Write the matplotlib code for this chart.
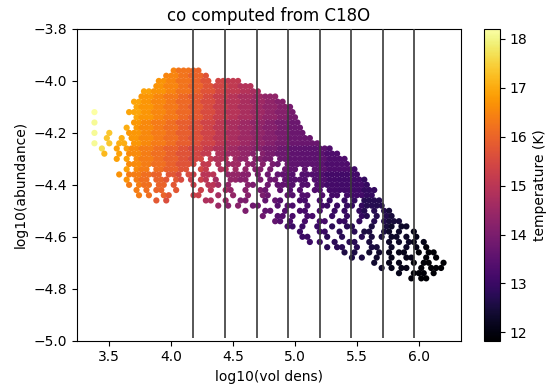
import numpy as np
import matplotlib
matplotlib.use("Agg")
import matplotlib.pyplot as plt

# Sampling lattice of the (log10 density, log10 abundance) plane used for the point map.
# Odd rows are staggered by half a column.
dens_start, dens_step = 3.38, 0.04
abund_start, abund_step = -3.96, 0.02

# Occupancy map of the cloud: one row per abundance step, '#' marks a cell with data.
cloud_rows = [
    ".......... ......#### ##",
    ".......... ....###### ###",
    ".......... ...####### ####.#####",
    ".......... ..######## ########## ##",
    ".......... ########## ########## ####",
    ".........# ########## ########## #######",
    "........## ########## ########## #########",
    "........## ########## ########## ##########",
    "#......### ########## ########## ########## #",
    "........## ########## ########## ########## #",
    "#.......## ########## ########## ########## ##",
    "......#.## ########## ########## ########## ##",
    "#..#...### ########## ########## ########## ###",
    "..#..#.### ########## ########## ########## ####",
    "#..#.##.## ########## ########## ########## ######",
    ".#..#.#### ########## ########## ########## ########",
    "..#..#.### ########## ####.##### ###.###### ##########",
    "....#.#.## ########## ##.####.## #.####.### ########## #",
    ".......### ########## #.##.#.### .##.#.##.# ########## ##",
    "......#.## #.#######. .##..##.#. #.##.#..## #.#.###### ###",
    ".....#.### ####.###.# #.###..### ##.#.#.### #.######## ####",
    "......#.## #.###.##.# .##.#..### #..#.##.## ###.###### #####",
    ".......#.# ##.##.#... #..###.#.. .##..#.### #.##.##### ######",
    "........#. #.##..#... .#.#..##.. #..##..#.# .#..##.### #######",
    ".........# .#..##.... ##...#..#. .#..##...# #.##..#.## .######",
    ".......... ..#.#..... ..##..#..# #...#.##.. .##..#.#.. #.#.####",
    ".......... .......... .....#.#.# ..##...#.# #..#..##.# .##.#####",
    ".......... .......... .......... #...##..#. .##..#..#. #..##.#.##",
    ".......... .......... .......... ....#..##. #..##...#. .#..##.#.# #",
    ".......... .......... .......... ......##.# ..#..##..# #..#..#.## ##",
    ".......... .......... .......... .........# #.#..#..#. .##...#..# #.##",
    ".......... .......... .......... .......... .#...##..# ..#.##..## .#..#",
    ".......... .......... .......... .......... ..##...#.. #...#.#.#. ##.#.#",
    ".......... .......... .......... .......... ...#.#..#. .##..#...# .#.##.#",
    ".......... .......... .......... .......... .......#.# #..#..##.. #..#.#.#.",
    ".......... .......... .......... .......... .......... #.#..#.#.# .##..#.##",
    ".......... .......... .......... .......... .......... ..#.#..#.. #..##..#.#",
    ".......... .......... .......... .......... .......... ......#..# .#..#.##.. #",
    ".......... .......... .......... .......... .......... ........#. #.##..#.## #",
    ".......... .......... .......... .......... .......... .......... .#..###.#.",
    ".......... .......... .......... .......... .......... .......... ....#.##..",
]

# Gas temperature (K) over the same plane, tabulated on 0.1 dex bins.
temp_dens = [3.4, 3.5, 3.6, 3.7, 3.8, 3.9, 4.0, 4.1, 4.2, 4.3, 4.4, 4.5, 4.6, 4.7, 4.8,
             4.9, 5.0, 5.1, 5.2, 5.3, 5.4, 5.5, 5.6, 5.7, 5.8, 5.9, 6.0, 6.1, 6.2]
temp_abund = [-4.0, -4.1, -4.2, -4.3, -4.4, -4.5, -4.6, -4.7, -4.8]
temp_table = [
    [18.2, 17.7, 17.4, 17.1, 16.9, 16.7, 16.5, 16.25, 16.0, 15.7, 15.4, 15.1, 14.9, 14.7, 14.5,
     14.3, 14.1, 13.9, 13.7, 13.5, 13.3, 13.1, 12.9, 12.7, 12.5, 12.3, 12.1, 11.95, 11.83],
    [18.2, 17.52, 17.22, 16.92, 16.72, 16.52, 16.32, 16.07, 15.82, 15.52, 15.22, 14.92, 14.72, 14.52, 14.32,
     14.12, 13.92, 13.9, 13.7, 13.5, 13.3, 13.1, 12.9, 12.7, 12.5, 12.3, 12.1, 11.95, 11.83],
    [18.1, 17.34, 17.04, 16.74, 16.54, 16.34, 16.14, 15.89, 15.64, 15.34, 15.04, 14.74, 14.54, 14.34, 14.14,
     13.94, 13.74, 13.72, 13.7, 13.5, 13.3, 13.1, 12.9, 12.7, 12.5, 12.3, 12.1, 11.95, 11.83],
    [17.66, 17.16, 16.86, 16.56, 16.36, 16.16, 15.96, 15.71, 15.46, 15.16, 14.86, 14.56, 14.36, 14.16, 13.96,
     13.76, 13.56, 13.54, 13.52, 13.32, 13.3, 13.1, 12.9, 12.7, 12.5, 12.3, 12.1, 11.95, 11.83],
    [17.48, 16.98, 16.68, 16.38, 16.18, 15.98, 15.78, 15.53, 15.28, 14.98, 14.68, 14.38, 14.18, 13.98, 13.78,
     13.58, 13.38, 13.36, 13.34, 13.14, 13.12, 13.1, 12.9, 12.7, 12.5, 12.3, 12.1, 11.95, 11.83],
    [17.3, 16.8, 16.5, 16.2, 16.0, 15.8, 15.6, 15.35, 15.1, 14.8, 14.5, 14.2, 14.0, 13.8, 13.6,
     13.4, 13.2, 13.18, 13.16, 12.96, 12.94, 12.92, 12.72, 12.7, 12.5, 12.3, 12.1, 11.95, 11.83],
    [17.12, 16.62, 16.32, 16.02, 15.82, 15.62, 15.42, 15.17, 14.92, 14.62, 14.32, 14.02, 13.82, 13.62, 13.42,
     13.22, 13.02, 13.0, 12.98, 12.78, 12.76, 12.74, 12.54, 12.52, 12.32, 12.3, 12.1, 11.95, 11.83],
    [16.94, 16.44, 16.14, 15.84, 15.64, 15.44, 15.24, 14.99, 14.74, 14.44, 14.14, 13.84, 13.64, 13.44, 13.24,
     13.04, 12.84, 12.82, 12.8, 12.6, 12.58, 12.56, 12.36, 12.34, 12.14, 12.12, 11.92, 11.9, 11.83],
    [16.76, 16.26, 15.96, 15.66, 15.46, 15.26, 15.06, 14.81, 14.56, 14.26, 13.96, 13.66, 13.46, 13.26, 13.06,
     12.86, 12.66, 12.64, 12.62, 12.42, 12.4, 12.38, 12.18, 12.16, 11.96, 11.94, 11.83, 11.83, 11.83],
]
temp_limits = (11.83, 18.2)

# Density cuts overplotted as vertical lines
cut_dens = [4.18, 4.435, 4.69, 4.945, 5.2, 5.455, 5.71, 5.965]
cut_abund = (-4.99, -3.8)

x_ticks = [3.5, 4.0, 4.5, 5.0, 5.5, 6.0]
y_ticks = [-5.0, -4.8, -4.6, -4.4, -4.2, -4.0, -3.8]
y_limits = (-5.0, -3.8)

# ---- decode the map into points ----
dens, abund, temp = [], [], []
tab = np.array(temp_table)
for i, row in enumerate(cloud_rows):
    cells = row.replace(" ", "")
    for j, ch in enumerate(cells):
        if ch != "#":
            continue
        x = dens_start + (j + 0.5 * (i % 2)) * dens_step
        y = abund_start - i * abund_step
        xi = int(np.clip(round((x - temp_dens[0]) / 0.1), 0, len(temp_dens) - 1))
        yi = int(np.clip(round((temp_abund[0] - y) / 0.1), 0, len(temp_abund) - 1))
        dens.append(x)
        abund.append(y)
        temp.append(tab[yi, xi])

fig = plt.figure(figsize=(5.58, 3.86), dpi=100)
W, H = 558, 386
ax = fig.add_axes([77 / W, 45.3 / H, 384 / W, 311.7 / H])
cax = fig.add_axes([484 / W, 45.3 / H, 16 / W, 311.7 / H])

sc = ax.scatter(dens, abund, c=temp, cmap="inferno", s=20, linewidths=0,
                vmin=temp_limits[0], vmax=temp_limits[1], zorder=2)
ax.vlines(cut_dens, cut_abund[0], cut_abund[1], colors="#3a3a3a", linewidth=1.2, zorder=3)

ax.set_ylim(*y_limits)
ax.set_xticks(x_ticks)
ax.set_yticks(y_ticks)
ax.set_title("co computed from C18O", fontsize=12)
ax.set_xlabel("log10(vol dens)")
ax.set_ylabel("log10(abundance)")

cb = fig.colorbar(sc, cax=cax)
cb.set_label("temperature (K)")

fig.savefig("out.png", dpi=100)
